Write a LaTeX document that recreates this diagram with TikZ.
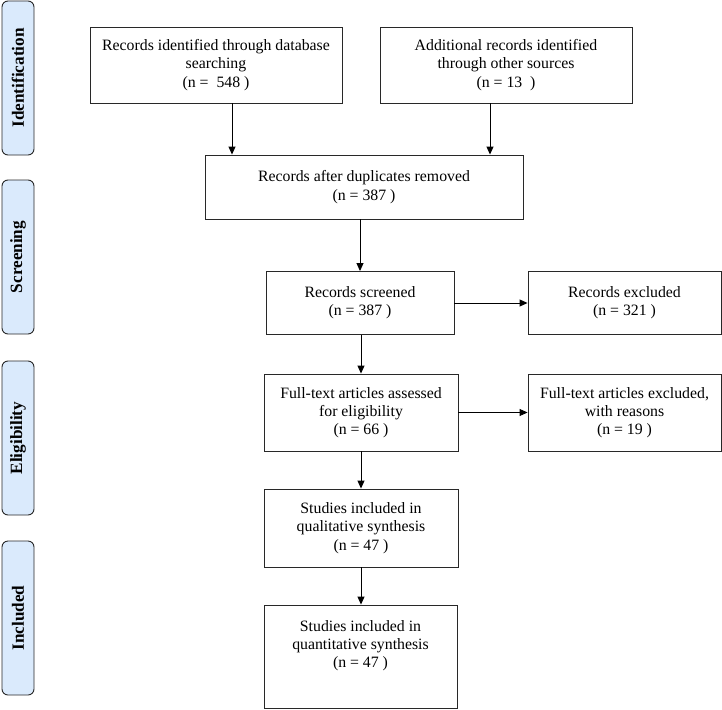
\documentclass[tikz,border=0pt]{standalone}
\usepackage{fontspec}
\setmainfont{Liberation Serif}
\usetikzlibrary{arrows.meta}
\definecolor{barfill}{RGB}{218,234,252}
\definecolor{linec}{RGB}{40,40,40}
\begin{document}
\begin{tikzpicture}[x=1pt,y=-1pt,
  box/.style={draw=linec,line width=0.9pt,fill=white,align=center,inner sep=0pt,
    font=\fontsize{15.8}{18.3}\selectfont},
  phase/.style={draw=linec,line width=0.9pt,fill=barfill,rounded corners=6pt,
    minimum width=32pt,minimum height=154pt,inner sep=0pt,
    font=\fontsize{17.2}{19}\selectfont\bfseries},
  arr/.style={-{Triangle[length=8pt,width=7pt]},draw=black,line width=0.9pt}]
\useasboundingbox (0,0) rectangle (722,709);
% phase bars
\node[phase] (pid) at (18,78) {\rotatebox{90}{Identification}};
\node[phase] (psc) at (18,257) {\rotatebox{90}{Screening}};
\node[phase] (pel) at (18,438) {\rotatebox{90}{Eligibility}};
\node[phase] (pin) at (18,618) {\rotatebox{90}{Included}};
% boxes
\node[box,minimum width=252pt,minimum height=76pt] (b1) at (216,65)
  {Records identified through database\\searching\\(n =\ \ 548 )};
\node[box,minimum width=252pt,minimum height=76pt] (b2) at (506,65)
  {Additional records identified\\through other sources\\(n = 13\ \ )};
\node[box,minimum width=318pt,minimum height=64pt] (b3) at (364,187)
  {Records after duplicates removed\\(n = 387 )};
\node[box,minimum width=188pt,minimum height=63pt] (b4) at (360,303)
  {Records screened\\(n = 387 )};
\node[box,minimum width=193pt,minimum height=63pt] (b5) at (624.5,303)
  {Records excluded\\(n = 321 )};
\node[box,minimum width=194pt,minimum height=77pt] (b6) at (361,412.5)
  {Full-text articles assessed\\for eligibility\\(n = 66 )};
\node[box,minimum width=193pt,minimum height=77pt] (b7) at (624.5,412.5)
  {Full-text articles excluded,\\with reasons\\(n = 19 )};
\node[box,minimum width=194pt,minimum height=78pt] (b8) at (361,528)
  {Studies included in\\qualitative synthesis\\(n = 47 )};
\node[box,minimum width=193pt,minimum height=103pt] (b9) at (360.5,656.5)
  {Studies included in\\quantitative synthesis\\(n = 47 )\rule[-25pt]{0pt}{0pt}};
% connectors
\draw[arr] ([xshift=16pt]b1.south) -- ([xshift=16pt]b1.south |- b3.north);
\draw[arr] ([xshift=-16pt]b2.south) -- ([xshift=-16pt]b2.south |- b3.north);
\draw[arr] (b4.north |- b3.south) -- (b4.north);
\draw[arr] (b4.east) -- (b5.west);
\draw[arr] (b6.north |- b4.south) -- (b6.north);
\draw[arr] (b6.east) -- (b6.east -| b7.west);
\draw[arr] (b6.south) -- (b8.north);
\draw[arr] (b8.south) -- (b8.south |- b9.north);
\end{tikzpicture}
\end{document}
